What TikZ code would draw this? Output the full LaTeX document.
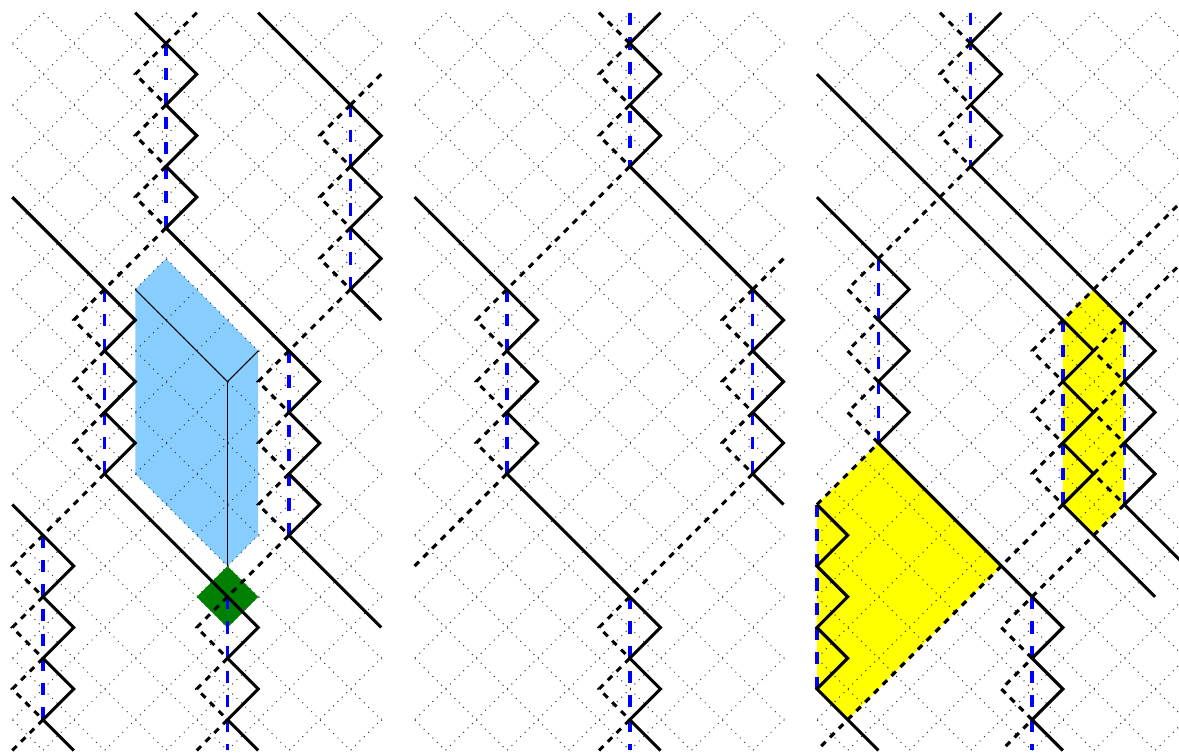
\documentclass[tikz,border=0pt]{standalone}

\newcommand*{\imax}{12}
\newcommand*{\jmax}{24}
\newcommand*{\panelgap}{13.087}

\definecolor{slabblue}{RGB}{135,206,255}
\definecolor{cellgreen}{RGB}{0,128,0}
\definecolor{wedgeyellow}{RGB}{255,255,0}
\definecolor{edgeblue}{RGB}{0,0,255}

% dotted diamond lattice of one panel
\newcommand*{\latticegrid}{
	\begin{scope}
		\clip (-0.03,-0.03) rectangle (\imax+0.03,\jmax+0.03);
		\foreach \k in {1,3,...,35} {
			\draw[gridline] ({\k-\jmax},\jmax) -- (\k,0);
		}
		\foreach \k in {-23,-21,...,11} {
			\draw[gridline] (\k,0) -- ({\k+\jmax},\jmax);
		}
	\end{scope}
}

\begin{document}
\begin{tikzpicture}
[
	x=23.055pt,
	y=-23.055pt,
	gridline/.style={line width=0.75pt,black!80,dash pattern=on 0.75pt off 3.908pt,dash phase=4.33pt},
	solidline/.style={line width=2.3pt,black,miter limit=10},
	dashline/.style={line width=2.3pt,black,dash pattern=on 4.658pt off 4.658pt},
	blueline/.style={line width=2.6pt,edgeblue,dash pattern=on 9.22pt off 9.22pt},
	thinline/.style={line width=0.8pt,black}
]

	\clip (-0.40,-0.413) rectangle (37.953,24.083);

	% left panel
	\begin{scope}
		\fill[slabblue] (5,8) -- (4,9) -- (4,15) -- (7,18) -- (8,17) -- (8,11) -- cycle;
		\latticegrid
		\fill[cellgreen] (7,18) -- (8,19) -- (7,20) -- (6,19) -- cycle;
		\draw[thinline] (4,9) -- (7,12) -- (8,11);
		\draw[thinline] (7,12) -- (7,18);

		\draw[blueline] (5,1) -- (5,7);
		\draw[blueline] (11,3) -- (11,9);
		\draw[blueline] (3,9) -- (3,15);
		\draw[blueline] (9,11) -- (9,17);
		\draw[blueline] (1,17) -- (1,23);
		\draw[blueline] (7,19) -- (7,24);

		\draw[dashline] (6,0) -- (5,1)
			(5,1) -- (4,2) -- (5,3) -- (4,4) -- (5,5) -- (4,6) -- (5,7)
			-- (3,9) -- (2,10) -- (3,11) -- (2,12) -- (3,13) -- (2,14) -- (3,15)
			-- (1,17) -- (0,18) -- (1,19) -- (0,20) -- (1,21) -- (0,22) -- (1,23) -- (0,24);
		\draw[dashline] (12,2) -- (11,3)
			(11,3) -- (10,4) -- (11,5) -- (10,6) -- (11,7) -- (10,8) -- (11,9)
			-- (9,11) -- (8,12) -- (9,13) -- (8,14) -- (9,15) -- (8,16) -- (9,17)
			-- (7,19) -- (6,20) -- (7,21) -- (6,22) -- (7,23) -- (6,24);

		\draw[solidline] (4,0) -- (5,1) -- (6,2) -- (5,3) -- (6,4) -- (5,5) -- (6,6) -- (5,7)
			-- (9,11) -- (10,12) -- (9,13) -- (10,14) -- (9,15) -- (10,16) -- (9,17) -- (12,20);
		\draw[solidline] (8,0) -- (11,3) -- (12,4) -- (11,5) -- (12,6) -- (11,7) -- (12,8) -- (11,9) -- (12,10);
		\draw[solidline] (0,6) -- (3,9) -- (4,10) -- (3,11) -- (4,12) -- (3,13) -- (4,14) -- (3,15)
			-- (7,19) -- (8,20) -- (7,21) -- (8,22) -- (7,23) -- (8,24);
		\draw[solidline] (0,16) -- (1,17) -- (2,18) -- (1,19) -- (2,20) -- (1,21) -- (2,22) -- (1,23) -- (2,24);
	\end{scope}

	% middle panel
	\begin{scope}[shift={(\panelgap,0)}]
		\latticegrid

		\draw[blueline] (7,0) -- (7,5);
		\draw[blueline] (3,9) -- (3,15);
		\draw[blueline] (11,9) -- (11,15);
		\draw[blueline] (7,19) -- (7,24);

		\draw[dashline] (6,0) -- (7,1)
			(7,1) -- (6,2) -- (7,3) -- (6,4) -- (7,5)
			-- (3,9) -- (2,10) -- (3,11) -- (2,12) -- (3,13) -- (2,14) -- (3,15) -- (0,18);
		\draw[dashline] (12,8) -- (11,9)
			(11,9) -- (10,10) -- (11,11) -- (10,12) -- (11,13) -- (10,14) -- (11,15)
			-- (7,19) -- (6,20) -- (7,21) -- (6,22) -- (7,23) -- (6,24);

		\draw[solidline] (8,0) -- (7,1) -- (8,2) -- (7,3) -- (8,4) -- (7,5)
			-- (11,9) -- (12,10) -- (11,11) -- (12,12) -- (11,13) -- (12,14) -- (11,15) -- (12,16);
		\draw[solidline] (0,6) -- (3,9) -- (4,10) -- (3,11) -- (4,12) -- (3,13) -- (4,14) -- (3,15)
			-- (7,19) -- (8,20) -- (7,21) -- (8,22) -- (7,23) -- (8,24);
	\end{scope}

	% right panel
	\begin{scope}[shift={(2*\panelgap,0)}]
		\fill[wedgeyellow] (2,14) -- (6,18) -- (1,23) -- (0,22) -- (0,16) -- cycle;
		\fill[wedgeyellow] (9,9) -- (10,10) -- (10,16) -- (9,17) -- (8,16) -- (8,10) -- cycle;
		\latticegrid

		\draw[blueline] (5,0) -- (5,5);
		\draw[blueline] (2,8) -- (2,14);
		\draw[blueline] (8,10) -- (8,16);
		\draw[blueline] (10,10) -- (10,16);
		\draw[blueline] (0,16) -- (0,22);
		\draw[blueline] (7,19) -- (7,24);

		\draw[dashline] (4,0) -- (5,1)
			(5,1) -- (4,2) -- (5,3) -- (4,4) -- (5,5)
			-- (2,8) -- (1,9) -- (2,10) -- (1,11) -- (2,12) -- (1,13) -- (2,14) -- (0,16);
		\draw[dashline] (12,6) -- (8,10) -- (7,11) -- (8,12) -- (7,13) -- (8,14) -- (7,15) -- (8,16) -- (0,24);
		\draw[dashline] (12,8) -- (10,10) -- (9,11) -- (10,12) -- (9,13) -- (10,14) -- (9,15) -- (10,16)
			-- (7,19) -- (6,20) -- (7,21) -- (6,22) -- (7,23) -- (6,24);

		\draw[solidline] (6,0) -- (5,1) -- (6,2) -- (5,3) -- (6,4) -- (5,5)
			-- (10,10) -- (11,11) -- (10,12) -- (11,13) -- (10,14) -- (11,15) -- (10,16) -- (12,18);
		\draw[solidline] (0,2) -- (8,10) -- (9,11) -- (8,12) -- (9,13) -- (8,14) -- (9,15) -- (8,16) -- (11,19);
		\draw[solidline] (0,6) -- (2,8) -- (3,9) -- (2,10) -- (3,11) -- (2,12) -- (3,13) -- (2,14)
			-- (7,19) -- (8,20) -- (7,21) -- (8,22) -- (7,23) -- (8,24);
		\draw[solidline] (0,16) -- (1,17) -- (0,18) -- (1,19) -- (0,20) -- (1,21) -- (0,22) -- (2,24);
	\end{scope}

\end{tikzpicture}
\end{document}
